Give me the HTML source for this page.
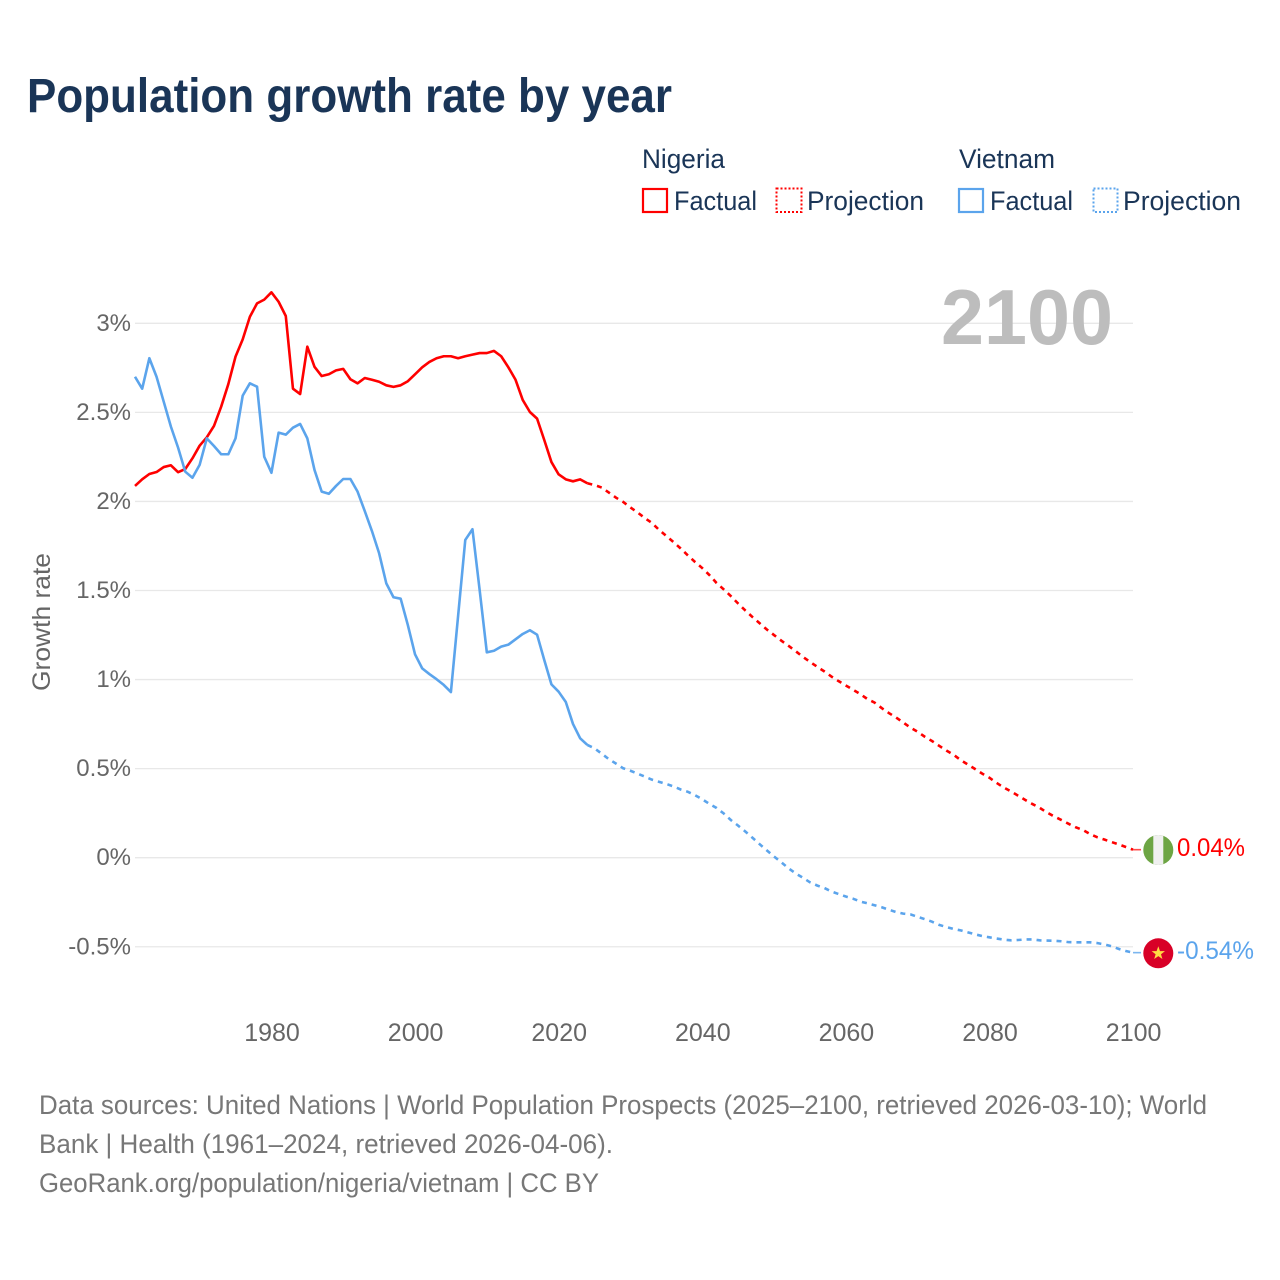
<!DOCTYPE html>
<html lang="en">
<head>
<meta charset="utf-8">
<title>Population growth rate by year</title>
<style>
  html, body { margin: 0; padding: 0; background: #fff; }
  svg { display: block; font-family: "Liberation Sans", sans-serif; }
</style>
</head>
<body>
<svg id="chart" xmlns="http://www.w3.org/2000/svg" width="1280" height="1280" viewBox="0 0 1280 1280">
  <rect x="0" y="0" width="1280" height="1280" fill="#ffffff"/>
  <text x="27" y="112" font-size="48" font-weight="700" fill="#1a3557" textLength="645" lengthAdjust="spacingAndGlyphs">Population growth rate by year</text>

  <g fill="#1a3557" font-size="27">
    <text x="642" y="168" textLength="83" lengthAdjust="spacingAndGlyphs">Nigeria</text>
    <g>
      <rect x="643" y="189" width="24" height="23" fill="none" stroke="#ff0000" stroke-width="2.2"/>
      <text x="674" y="210" textLength="83" lengthAdjust="spacingAndGlyphs">Factual</text>
    </g>
    <g>
      <rect x="776.5" y="188.5" width="25" height="23.5" fill="none" stroke="#ff0000" stroke-width="2" stroke-dasharray="2 2"/>
      <text x="807" y="210" textLength="117" lengthAdjust="spacingAndGlyphs">Projection</text>
    </g>
    <text x="959" y="168" textLength="96" lengthAdjust="spacingAndGlyphs">Vietnam</text>
    <g>
      <rect x="959" y="189" width="24" height="23" fill="none" stroke="#5ba4ec" stroke-width="2.2"/>
      <text x="990" y="210" textLength="83" lengthAdjust="spacingAndGlyphs">Factual</text>
    </g>
    <g>
      <rect x="1093.5" y="188.5" width="24" height="23.5" fill="none" stroke="#5ba4ec" stroke-width="2" stroke-dasharray="2 2"/>
      <text x="1123" y="210" textLength="118" lengthAdjust="spacingAndGlyphs">Projection</text>
    </g>
  </g>

  <g id="gridlines"></g>
  <g id="y-ticks"></g>
  <g id="x-ticks"></g>
  <text transform="translate(50 691) rotate(-90)" font-size="25" fill="#666666" textLength="138" lengthAdjust="spacingAndGlyphs">Growth rate</text>
  <text x="941" y="344" font-size="78" font-weight="700" fill="#bdbdbd" textLength="172" lengthAdjust="spacingAndGlyphs">2100</text>

  <g id="series"></g>

  <g>
    <clipPath id="ng-clip"><circle cx="1158.3" cy="850" r="15"/></clipPath>
    <circle cx="1158.3" cy="850" r="15" fill="#6da544"/>
    <rect x="1153.3" y="835" width="10" height="30" fill="#f0f0f0" clip-path="url(#ng-clip)"/>
  </g>
  <g>
    <circle cx="1158.3" cy="953.3" r="15" fill="#d80027"/>
    <polygon points="1158.3,946.3 1160,951.1 1165,951.1 1161,954.2 1162.4,959 1158.3,956.1 1154.2,959 1155.6,954.2 1151.6,951.1 1156.6,951.1" fill="#ffda44"/>
  </g>
  <text x="1177" y="856" font-size="25" fill="#ff0000" textLength="68" lengthAdjust="spacingAndGlyphs">0.04%</text>
  <text x="1177" y="959" font-size="25" fill="#5ba4ec" textLength="77" lengthAdjust="spacingAndGlyphs">-0.54%</text>

  <g font-size="27" fill="#777777">
    <text x="39" y="1114" textLength="1168" lengthAdjust="spacingAndGlyphs">Data sources: United Nations | World Population Prospects (2025–2100, retrieved 2026-03-10); World</text>
    <text x="39" y="1153" textLength="574" lengthAdjust="spacingAndGlyphs">Bank | Health (1961–2024, retrieved 2026-04-06).</text>
    <text x="39" y="1192" textLength="560" lengthAdjust="spacingAndGlyphs">GeoRank.org/population/nigeria/vietnam | CC BY</text>
  </g>
</svg>

<script>
const yTickValues = [-0.5, 0, 0.5, 1, 1.5, 2, 2.5, 3];
const yTickLabels = ["-0.5%", "0%", "0.5%", "1%", "1.5%", "2%", "2.5%", "3%"];
const xTickYears = [1980, 2000, 2020, 2040, 2060, 2080, 2100];
const firstFactualYear = 1961;
const firstProjectionYear = 2024;

const nigeriaFactual = [2.087,2.124,2.154,2.165,2.193,2.203,2.164,2.182,2.242,2.313,2.360,2.424,2.532,2.659,2.813,2.910,3.037,3.112,3.133,3.174,3.121,3.041,2.633,2.603,2.869,2.756,2.704,2.714,2.736,2.744,2.686,2.663,2.693,2.683,2.672,2.652,2.643,2.652,2.675,2.714,2.753,2.783,2.804,2.815,2.815,2.804,2.815,2.824,2.833,2.833,2.845,2.815,2.753,2.683,2.570,2.502,2.465,2.345,2.221,2.152,2.124,2.113,2.124,2.102];
const nigeriaProjection = [2.102,2.092,2.078,2.050,2.021,1.997,1.966,1.938,1.907,1.879,1.840,1.806,1.772,1.736,1.697,1.660,1.626,1.587,1.542,1.506,1.468,1.427,1.388,1.351,1.316,1.281,1.250,1.219,1.190,1.160,1.128,1.100,1.072,1.046,1.017,0.991,0.967,0.943,0.919,0.891,0.871,0.840,0.812,0.787,0.759,0.730,0.707,0.679,0.655,0.628,0.602,0.578,0.548,0.523,0.498,0.472,0.449,0.420,0.394,0.372,0.348,0.324,0.301,0.280,0.254,0.232,0.212,0.191,0.171,0.156,0.133,0.115,0.102,0.088,0.075,0.060,0.045];
const vietnamFactual = [2.700,2.633,2.804,2.700,2.560,2.420,2.302,2.167,2.133,2.205,2.354,2.311,2.265,2.265,2.354,2.594,2.663,2.644,2.251,2.161,2.386,2.375,2.414,2.435,2.354,2.177,2.055,2.043,2.087,2.126,2.126,2.055,1.946,1.834,1.709,1.540,1.462,1.454,1.306,1.142,1.063,1.031,1.002,0.970,0.930,1.357,1.784,1.844,1.503,1.153,1.162,1.185,1.196,1.226,1.256,1.277,1.252,1.110,0.973,0.932,0.874,0.751,0.670,0.633];
const vietnamProjection = [0.633,0.614,0.584,0.553,0.528,0.502,0.488,0.472,0.455,0.438,0.426,0.414,0.400,0.383,0.370,0.351,0.328,0.302,0.279,0.248,0.211,0.180,0.147,0.112,0.076,0.041,0.007,-0.025,-0.059,-0.088,-0.112,-0.138,-0.156,-0.170,-0.190,-0.204,-0.218,-0.230,-0.246,-0.256,-0.267,-0.278,-0.292,-0.305,-0.314,-0.318,-0.332,-0.345,-0.359,-0.377,-0.389,-0.400,-0.408,-0.419,-0.430,-0.440,-0.447,-0.454,-0.460,-0.464,-0.462,-0.459,-0.459,-0.464,-0.465,-0.466,-0.469,-0.474,-0.475,-0.475,-0.475,-0.479,-0.487,-0.497,-0.512,-0.524,-0.533];

const NS = "http://www.w3.org/2000/svg";
function xScale(year) { return 135 + (year - 1961) * 7.18; }
function yScale(value) { return 857.7 - value * 178.13; }

function make(tag, attrs, parent) {
  const el = document.createElementNS(NS, tag);
  Object.keys(attrs).forEach(function (k) { el.setAttribute(k, attrs[k]); });
  parent.appendChild(el);
  return el;
}

const gridGroup = document.getElementById("gridlines");
const yTickGroup = document.getElementById("y-ticks");
yTickValues.forEach(function (value, i) {
  const line = make("line", { x1: 135, x2: 1133, y1: yScale(value), y2: yScale(value), stroke: "#e8e8e8", "stroke-width": 1.3 }, gridGroup);
  
  
  const label = make("text", { x: 131, y: yScale(value) + 7.5, "text-anchor": "end", "font-size": 24, fill: "#666666" }, yTickGroup);
  
  
  label.textContent = yTickLabels[i];
});

const xTickGroup = document.getElementById("x-ticks");
xTickYears.forEach(function (year) {
  const label = make("text", { x: xScale(year) + 0.6, y: 1041, "text-anchor": "middle", "font-size": 25, fill: "#666666" }, xTickGroup);
  
  
  label.textContent = String(year);
});

function pathFrom(values, startYear) {
  return values.map(function (v, i) {
    return (i ? "L" : "M") + xScale(startYear + i).toFixed(2) + " " + yScale(v).toFixed(2);
  }).join(" ");
}

const seriesGroup = document.getElementById("series");
const strokeWidth = 2.6;

const nf = make("path", { d: pathFrom(nigeriaFactual, firstFactualYear), fill: "none", stroke: "#ff0000", "stroke-width": strokeWidth, "stroke-linejoin": "round" }, seriesGroup);



const vf = make("path", { d: pathFrom(vietnamFactual, firstFactualYear), fill: "none", stroke: "#5ba4ec", "stroke-width": strokeWidth, "stroke-linejoin": "round" }, seriesGroup);



const np = make("path", { d: pathFrom(nigeriaProjection, firstProjectionYear), fill: "none", stroke: "#ff0000", "stroke-width": strokeWidth, "stroke-dasharray": "5 5" }, seriesGroup);



const vp = make("path", { d: pathFrom(vietnamProjection, firstProjectionYear), fill: "none", stroke: "#5ba4ec", "stroke-width": strokeWidth, "stroke-dasharray": "5 5" }, seriesGroup);



const lastYear = firstProjectionYear + nigeriaProjection.length - 1;
const nc = make("line", { x1: xScale(lastYear), x2: xScale(lastYear) + 8, y1: yScale(nigeriaProjection[nigeriaProjection.length - 1]), y2: yScale(nigeriaProjection[nigeriaProjection.length - 1]), stroke: "#ff0000", "stroke-width": 1.6, opacity: 0.7 }, seriesGroup);


const vc = make("line", { x1: xScale(lastYear), x2: xScale(lastYear) + 8, y1: yScale(vietnamProjection[vietnamProjection.length - 1]), y2: yScale(vietnamProjection[vietnamProjection.length - 1]), stroke: "#5ba4ec", "stroke-width": 1.6, opacity: 0.8 }, seriesGroup);


</script>
</body>
</html>
